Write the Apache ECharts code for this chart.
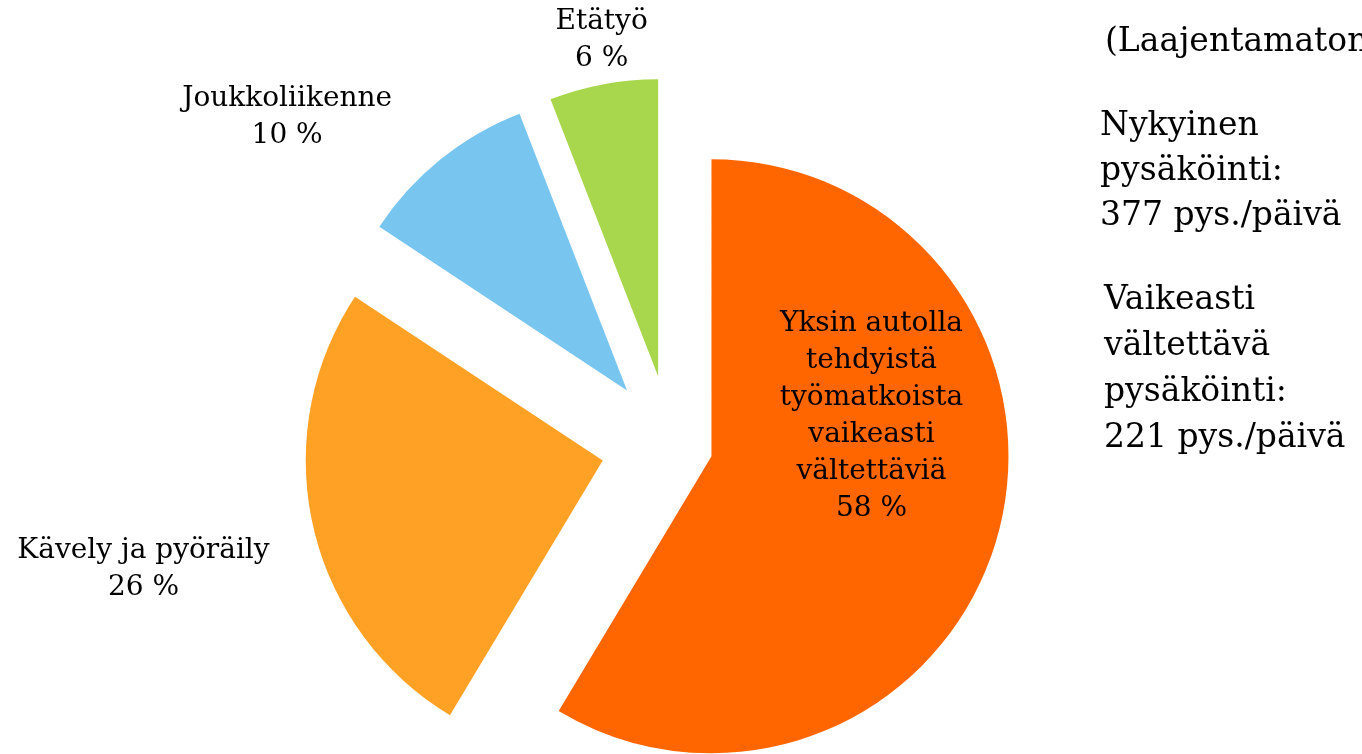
<!DOCTYPE html>
<html>
<head>
<meta charset="utf-8">
<script src="https://cdn.jsdelivr.net/npm/echarts@6/dist/echarts.min.js"></script>
<style>
  html, body { margin: 0; padding: 0; background: #fff; }
  #chart { width: 1362px; height: 754px; }
</style>
</head>
<body>
<div id="chart"></div>
<script>
// shares of work trips (slice sizes) and printed labels
const categories = [
  'Yksin autolla\ntehdyistä\ntyömatkoista\nvaikeasti\nvältettäviä',
  'Kävely ja pyöräily',
  'Joukkoliikenne',
  'Etätyö'
]
const values = [58.6, 25.7, 9.8, 5.9]
const shownPct = [58, 26, 10, 6]
const colors = ['#ff6600', '#ffa124', '#78c6ef', '#a8d64c']
const sideNotes = [
  '(Laajentamaton',
  'Nykyinen\npysäköinti:\n377 pys./päivä',
  'Vaikeasti\nvältettävä\npysäköinti:\n221 pys./päivä'
]

const FONT = '"DejaVu Serif", serif'
// nudges so the labels sit where the original put them
const labelNudge = [[14, -80], [-120, 40], [-99, -43], [36, -29]]

const chart = echarts.init(document.getElementById('chart'))

// the big slice sits closer to the centre than the three small ones
const buildData = (visible) => categories.map((name, i) => ({
  name,
  value: values[i],
  selected: visible(i),
  itemStyle: { color: visible(i) ? colors[i] : 'rgba(0,0,0,0)' },
  label: { show: visible(i) }
}))

const labelFmt = (p) => p.name + '\n' + shownPct[p.dataIndex] + ' %'
const nudge = (p) => ({
  dx: labelNudge[p.dataIndex][0],
  dy: labelNudge[p.dataIndex][1],
  align: 'center'
})

const labelStyle = {
  formatter: labelFmt,
  fontFamily: FONT,
  fontSize: 28,
  lineHeight: 37,
  color: '#000',
  align: 'center'
}

const baseSeries = {
  type: 'pie',
  center: [671, 445],
  radius: 297,
  startAngle: 90,
  clockwise: true,
  selectedMode: 'multiple',
  silent: true,
  animation: false,
  emphasis: { disabled: true },
  labelLine: { show: false },
  labelLayout: nudge,
  itemStyle: { borderWidth: 0 }
}

chart.setOption({
  backgroundColor: '#fff',
  series: [
    {
      ...baseSeries,
      selectedOffset: 70,
      data: buildData((i) => i > 0),
      label: { ...labelStyle, position: 'outside' }
    },
    {
      ...baseSeries,
      selectedOffset: 42,
      data: buildData((i) => i === 0),
      label: { ...labelStyle, position: 'inside' }
    }
  ],
  graphic: [
    {
      type: 'text', left: 1105, top: 20,
      style: { text: sideNotes[0], font: '33px ' + FONT, fill: '#000', lineHeight: 45 }
    },
    {
      type: 'text', left: 1100, top: 104,
      style: { text: sideNotes[1], font: '33px ' + FONT, fill: '#000', lineHeight: 45 }
    },
    {
      type: 'text', left: 1104, top: 277,
      style: { text: sideNotes[2], font: '33px ' + FONT, fill: '#000', lineHeight: 46 }
    }
  ]
})
</script>
</body>
</html>
